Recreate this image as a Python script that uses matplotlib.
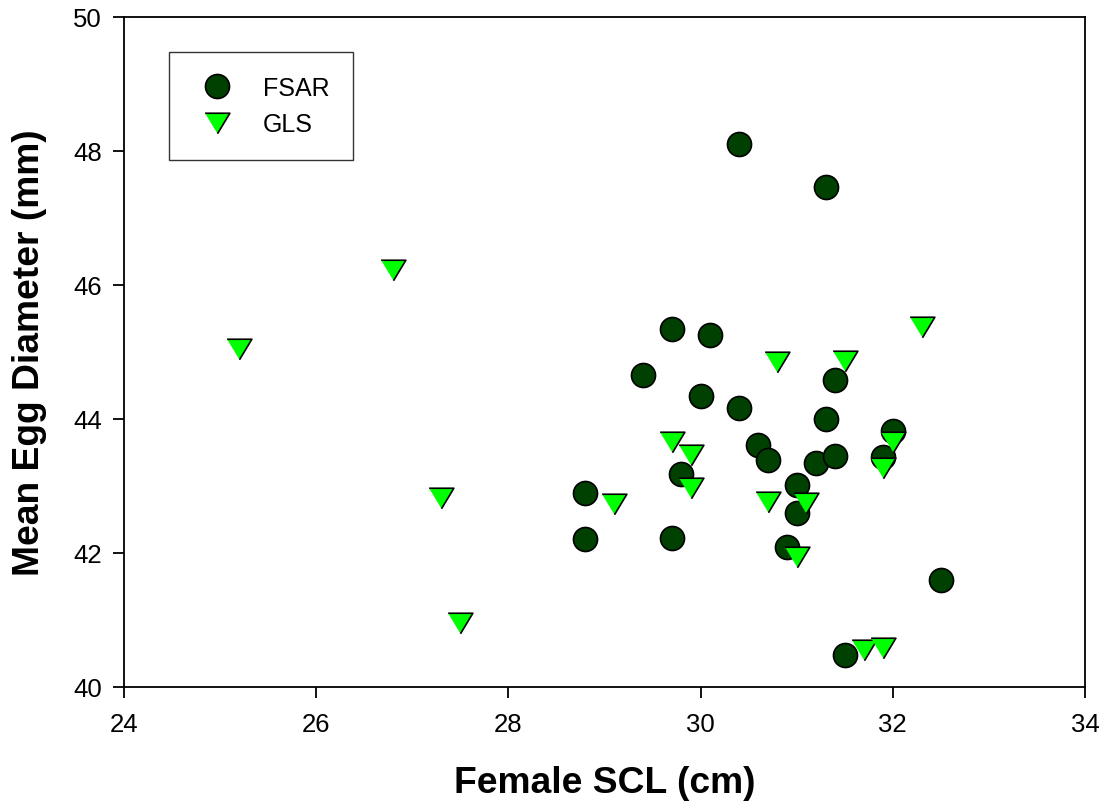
import matplotlib
matplotlib.use("Agg")
import matplotlib.pyplot as plt

plt.rcParams['font.family'] = ['Liberation Sans', 'DejaVu Sans']

fsar_x = [30.4, 31.3, 29.7, 30.1, 29.4, 30.0, 30.4, 31.4, 31.3, 32.0, 31.9, 30.6,
          30.7, 31.2, 31.4, 29.8, 31.0, 31.0, 30.9, 28.8, 28.8, 29.7, 31.5, 32.5]
fsar_y = [48.10, 47.46, 45.34, 45.26, 44.66, 44.35, 44.16, 44.58, 44.00, 43.82, 43.44, 43.61,
          43.39, 43.35, 43.45, 43.18, 43.02, 42.59, 42.09, 42.89, 42.21, 42.23, 40.48, 41.59]

gls_x = [32.3, 30.8, 31.5, 29.7, 29.9, 29.9, 32.0, 31.9, 29.1, 30.7, 31.1, 31.0,
         31.7, 31.9, 26.8, 25.2, 27.3, 27.5]
gls_y = [45.37, 44.85, 44.87, 43.65, 43.46, 42.97, 43.66, 43.27, 42.73, 42.76, 42.74, 41.94,
         40.55, 40.58, 46.23, 45.05, 42.82, 40.96]

x_ticks = [24, 26, 28, 30, 32, 34]
y_ticks = [40, 42, 44, 46, 48, 50]

fig = plt.figure(figsize=(11.08, 8.12), dpi=100)
ax = fig.add_axes([124/1108, 1 - 688/812, (1085-124)/1108, (688-18)/812])

tri = [(-1, 0.83), (1, 0.83), (0, -0.83)]

ax.plot(fsar_x, fsar_y, ls='none', marker='o', ms=17.3, mfc='#004000', mec='black',
        mew=1.2, label='FSAR', zorder=3)
ax.plot(gls_x, gls_y, ls='none', marker=tri, ms=17.8, mfc='#00ff00', mec='black',
        mew=1.2, label='GLS', zorder=4)

ax.set_xlim(24, 34)
ax.set_ylim(40, 50)
ax.set_xticks(x_ticks)
ax.set_yticks(y_ticks)
ax.tick_params(axis='both', direction='out', length=8, width=1.3, labelsize=18.5,
               top=False, right=False)
ax.tick_params(axis='x', pad=10)
ax.tick_params(axis='y', pad=8)
for s in ax.spines.values():
    s.set_linewidth(1.3)

ax.set_xlabel('Female SCL (cm)', fontsize=26.8, fontweight='bold', labelpad=21)
ax.set_ylabel('Mean Egg Diameter (mm)', fontsize=26.8, fontweight='bold', labelpad=19)

leg = ax.legend(loc='upper left', bbox_to_anchor=((169-124)/961, (688-53)/670),
                borderaxespad=0, fontsize=18, frameon=True, fancybox=False,
                edgecolor='black', borderpad=0.95, handlelength=1.95,
                handletextpad=0.86, labelspacing=0.5, numpoints=1)
leg.get_frame().set_linewidth(1.0)

fig.savefig('out.png', dpi=100)
